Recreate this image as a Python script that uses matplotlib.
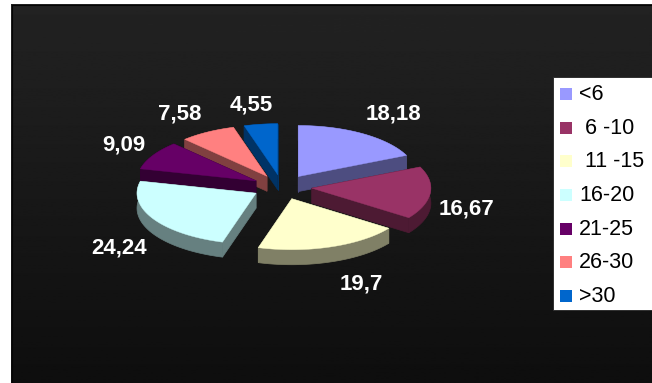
import numpy as np
import matplotlib
matplotlib.use('Agg')
import matplotlib.pyplot as plt
from matplotlib.patches import Rectangle

plt.rcParams['font.family'] = ['Liberation Sans', 'DejaVu Sans']

# age groups and their shares
categories = ['<6', ' 6 -10', ' 11 -15', '16-20', '21-25', '26-30', '>30']
values = [18.18, 16.67, 19.7, 24.24, 9.09, 7.58, 4.55]
value_labels = ['18,18', '16,67', '19,7', '24,24', '9,09', '7,58', '4,55']

top_colors = ['#9999FF', '#993366', '#FFFFCC', '#CCFFFF', '#660066', '#FF8080', '#0066CC']
side_colors = ['#4D4D80', '#4D1A33', '#808066', '#668080', '#330033', '#804040', '#003366']

# pie geometry, in pixels
cx, cy = 282, 187
rx, ry = 119, 51
ex, ey = 30, 12.4
depth = 15
label_pos = [(393, 114), (466, 209), (361, 284), (119, 248), (124, 145), (180, 114), (251, 105)]

fig = plt.figure(figsize=(6.52, 3.83), dpi=100, facecolor='white')
ax = fig.add_axes([0, 0, 1, 1])
ax.set_xlim(0, 652)
ax.set_ylim(383, 0)
ax.axis('off')

# dark panel with vertical gradient
grad = np.linspace(0.135, 0.055, 256).reshape(-1, 1)
ax.imshow(grad, cmap='gray', vmin=0, vmax=1, extent=[11, 652, 383, 4], aspect='auto', zorder=0)
ax.plot([11.5, 11.5], [383, 4.5], color='#050505', lw=0.8, zorder=1)
ax.plot([11.5, 652], [4.5, 4.5], color='#050505', lw=0.8, zorder=1)
ax.set_xlim(0, 652)
ax.set_ylim(383, 0)

# slice angles, clockwise from 12 o'clock
fracs = np.array(values) / sum(values) * 2 * np.pi
ends = np.cumsum(fracs)
starts = ends - fracs


def wedge_outline(i):
    mid = (starts[i] + ends[i]) / 2
    ax0 = cx + ex * np.sin(mid)
    ay0 = cy - ey * np.cos(mid)
    t = np.linspace(starts[i], ends[i], 80)
    xs = np.r_[ax0, ax0 + rx * np.sin(t)]
    ys = np.r_[ay0, ay0 - ry * np.cos(t)]
    return xs, ys


# back slices first, front slices last
draw_order = [6, 5, 4, 0, 3, 1, 2]
for z, i in enumerate(draw_order):
    xs, ys = wedge_outline(i)
    col = side_colors[i]
    # the two straight faces
    ax.fill([xs[0], xs[1], xs[1], xs[0]], [ys[0], ys[1], ys[1] + depth, ys[0] + depth],
            color=col, lw=0.5, zorder=2 + z * 0.1)
    ax.fill([xs[0], xs[-1], xs[-1], xs[0]], [ys[0], ys[-1], ys[-1] + depth, ys[0] + depth],
            color=col, lw=0.5, zorder=2 + z * 0.1)
    # the curved rim as one strip
    ax.fill(np.r_[xs[1:], xs[1:][::-1]], np.r_[ys[1:], ys[1:][::-1] + depth],
            color=col, lw=0.5, zorder=2 + z * 0.1)
    ax.fill(xs, ys, color=top_colors[i], lw=0.3, zorder=2.05 + z * 0.1)

for (x, y), s in zip(label_pos, value_labels):
    ax.text(x, y, s, color='white', fontsize=16, fontweight='bold',
            ha='center', va='center', zorder=5)

# legend box
ax.add_patch(Rectangle((553, 77), 99, 233, facecolor='white', edgecolor='#222222', lw=0.6, zorder=6))
for i, name in enumerate(categories):
    y = 94 + i * 33.67
    ax.add_patch(Rectangle((560, y - 6), 12, 12, facecolor=top_colors[i], edgecolor='none', zorder=7))
    ax.text(579, y + 0.5, name, color='black', fontsize=15.5, ha='left', va='center', zorder=7)

fig.savefig('out.png', dpi=100)
